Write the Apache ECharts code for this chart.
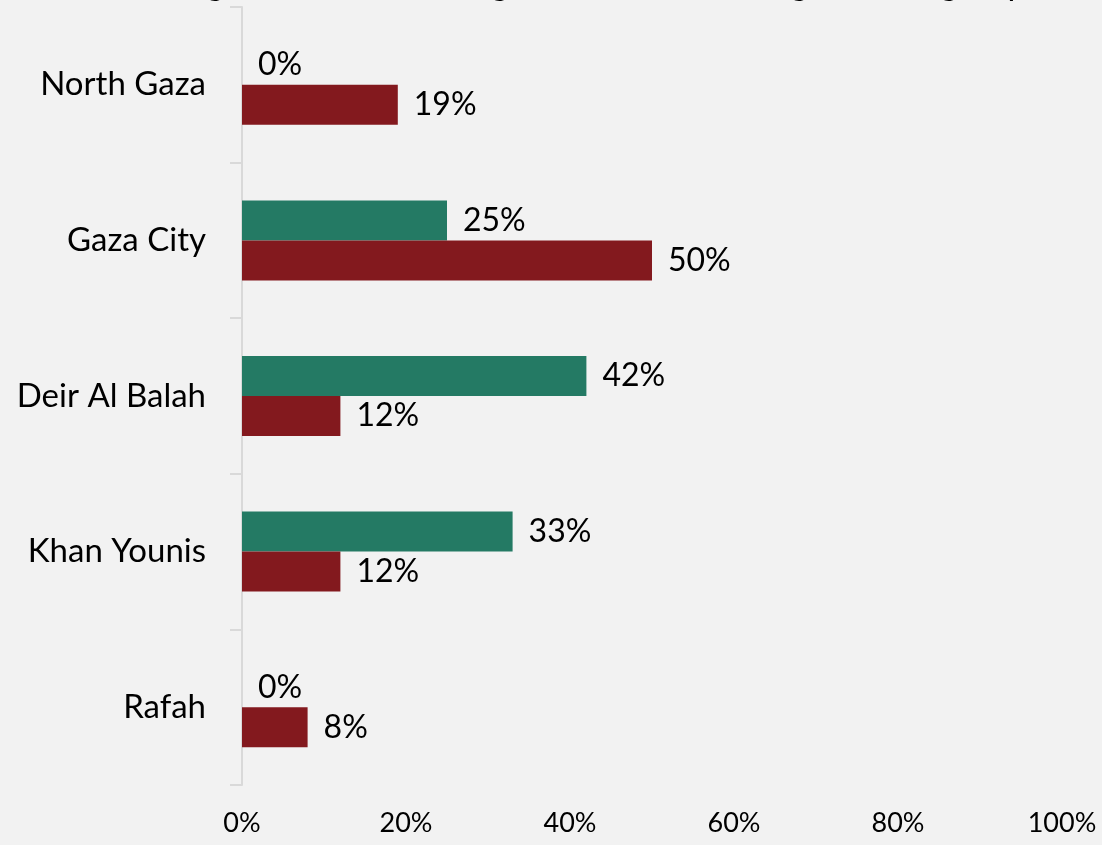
<!DOCTYPE html>
<html>
<head>
<meta charset="utf-8">
<script src="https://cdn.jsdelivr.net/npm/echarts@6/dist/echarts.min.js"></script>
<style>
  html, body { margin: 0; padding: 0; background: #f2f2f2; }
  #chart { width: 1102px; height: 845px; }
</style>
</head>
<body>
<div id="chart"></div>
<script>
  const regions = ['North Gaza', 'Gaza City', 'Deir Al Balah', 'Khan Younis', 'Rafah'];
  const greenValues = [0, 25, 42, 33, 0];
  const redValues = [19, 50, 12, 12, 8];
  const xTicks = [0, 20, 40, 60, 80, 100];

  const chart = echarts.init(document.getElementById('chart'));
  const font = 'Lato, "Open Sans", sans-serif';

  const option = {
    backgroundColor: '#f2f2f2',
    animation: false,
    title: {
      text: 'Percentage of students and general adults among the sub-group',
      left: 'center',
      top: -38,
      textStyle: { fontFamily: font, fontSize: 34, fontWeight: 'normal', color: '#000' }
    },
    grid: { left: 242, right: 40, top: 7, bottom: 60 },
    xAxis: {
      type: 'value',
      min: xTicks[0],
      max: xTicks[xTicks.length - 1],
      interval: 20,
      axisLine: { show: false },
      axisTick: { show: false },
      splitLine: { show: false },
      axisLabel: {
        formatter: '{value}%',
        fontFamily: font,
        fontSize: 27,
        color: '#000',
        margin: 25
      }
    },
    yAxis: {
      type: 'category',
      data: regions,
      inverse: true,
      axisLine: { show: true, lineStyle: { color: '#d9d9d9', width: 2 } },
      axisTick: { show: true, length: 12, lineStyle: { color: '#d9d9d9', width: 2 } },
      axisLabel: { fontFamily: font, fontSize: 33, color: '#000', margin: 36 }
    },
    series: [
      {
        type: 'bar',
        data: greenValues,
        barWidth: 40,
        barGap: '0%',
        itemStyle: { color: '#247a64' },
        label: {
          show: true, position: 'right', distance: 16,
          formatter: p => Math.round(p.value) + '%',
          fontFamily: font, fontSize: 32, color: '#000'
        }
      },
      {
        type: 'bar',
        data: redValues,
        barWidth: 40,
        barGap: '0%',
        itemStyle: { color: '#83191e' },
        label: {
          show: true, position: 'right', distance: 16,
          formatter: p => Math.round(p.value) + '%',
          fontFamily: font, fontSize: 32, color: '#000'
        }
      }
    ]
  };
  chart.setOption(option);
</script>
</body>
</html>
